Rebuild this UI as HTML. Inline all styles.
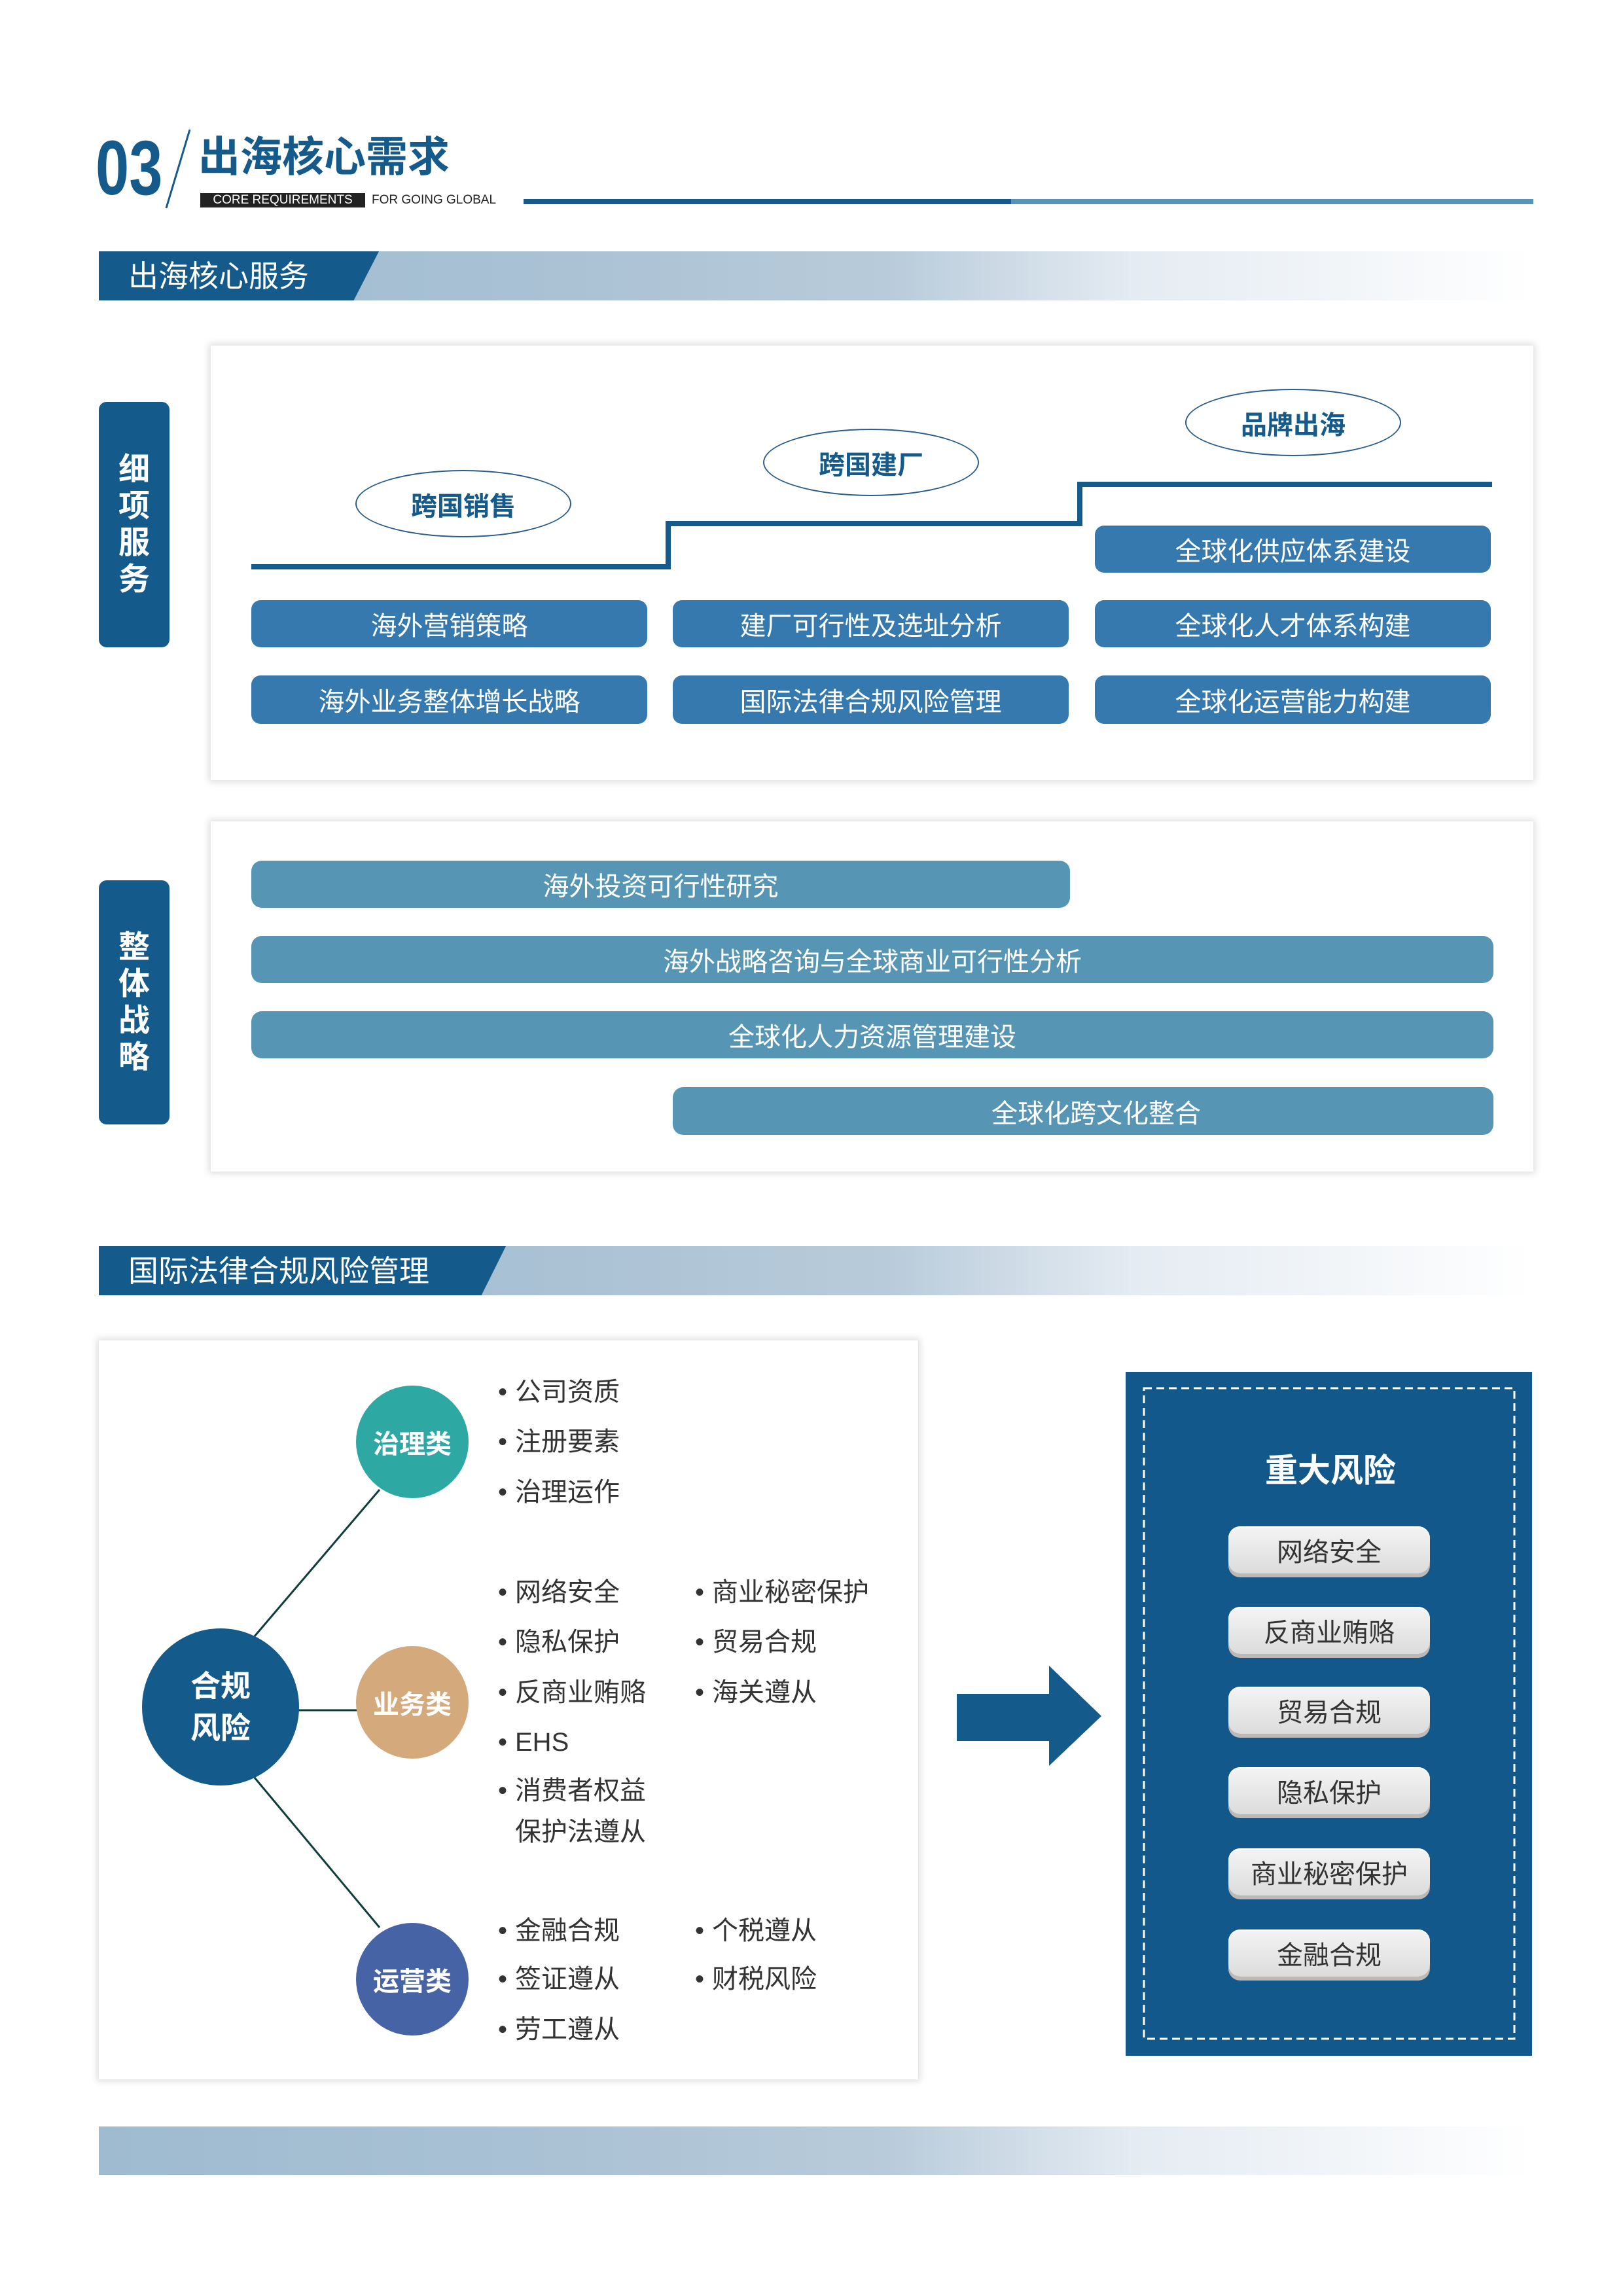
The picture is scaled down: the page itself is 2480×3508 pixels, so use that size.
<!DOCTYPE html>
<html><head><meta charset="utf-8"><style>
*{margin:0;padding:0;box-sizing:border-box}
body{width:2480px;height:3508px;position:relative;background:#fff;font-family:"Liberation Sans","Noto Sans CJK SC",sans-serif;overflow:hidden}
.a{position:absolute}
.c{display:flex;align-items:center;justify-content:center;text-align:center}
.bar{background:linear-gradient(90deg,#9fbbd0 0%,#a9c1d4 30%,#b8cbda 55%,#e4ebf2 72%,#f3f6f9 88%,#fff 100%)}
.box{background:#fff;box-shadow:0 0 10px 3px rgba(0,0,0,.13)}
.side{background:#145a8b;border-radius:12px;color:#fff;font-weight:bold;font-size:48px;line-height:56px;flex-direction:column}
.btn{background:#3579ae;border-radius:14px;color:#fff;font-size:40px}
.wb{background:#5696b4;border-radius:16px;color:#fff;font-size:40px}
.ell{border:2px solid #2a5d8c;border-radius:50%;color:#145a8b;font-weight:bold;font-size:40px;background:#fff}
.li{color:#333;font-size:40px;line-height:40px;white-space:nowrap}
.li:before{content:"•";position:absolute;left:-26px}
.pill{width:308px;height:72px;border-radius:18px;background:linear-gradient(180deg,#f4f4f4,#dcdcdc);box-shadow:0 6px 0 #bdb9b6, inset 0 2px 0 #fff;color:#333;font-size:40px}
.circ{border-radius:50%;color:#fff;font-weight:bold;font-size:40px}
</style></head><body>

<div class="a" style="left:146px;top:198px;font-size:118px;font-weight:bold;color:#145a8b;line-height:118px;transform:scaleX(.78);transform-origin:left;">03</div>
<svg class="a" style="left:0;top:0" width="2480" height="400"><line x1="290" y1="198" x2="254" y2="318" stroke="#145a8b" stroke-width="3"/></svg>
<div class="a" style="left:303px;top:204px;font-size:64px;font-weight:bold;color:#145a8b;line-height:72px;">出海核心需求</div>
<div class="a c" style="left:306px;top:295px;width:252px;height:22px;background:#222;color:#fff;font-size:19px;">CORE REQUIREMENTS</div>
<div class="a" style="left:568px;top:295px;font-size:19px;line-height:22px;color:#222;">FOR GOING GLOBAL</div>
<div class="a" style="left:800px;top:304px;width:745px;height:8px;background:#145a8b"></div>
<div class="a" style="left:1545px;top:304px;width:798px;height:8px;background:#5696b4"></div>

<div class="a bar" style="left:151px;top:384px;width:2190px;height:75px"></div>
<div class="a" style="left:151px;top:384px;width:428px;height:75px;background:#145a8b;clip-path:polygon(0 0,100% 0,91% 100%,0 100%)"></div>
<div class="a" style="left:196px;top:392px;font-size:46px;color:#fff;line-height:60px;">出海核心服务</div>

<div class="a box" style="left:322px;top:528px;width:2021px;height:664px"></div>
<div class="a side c" style="left:151px;top:614px;width:108px;height:375px">细<br>项<br>服<br>务</div>
<svg class="a" style="left:0;top:0" width="2480" height="1000">
<polyline points="384,866 1021,866 1021,800 1650,800 1650,740 2280,740" fill="none" stroke="#145a8b" stroke-width="8"/>
</svg>
<div class="a ell c" style="left:543px;top:718px;width:330px;height:103px">跨国销售</div>
<div class="a ell c" style="left:1166px;top:655px;width:330px;height:103px">跨国建厂</div>
<div class="a ell c" style="left:1811px;top:594px;width:330px;height:103px">品牌出海</div>
<div class="a btn c" style="left:1673px;top:803px;width:605px;height:72px">全球化供应体系建设</div>
<div class="a btn c" style="left:384px;top:917px;width:605px;height:72px">海外营销策略</div>
<div class="a btn c" style="left:1028px;top:917px;width:605px;height:72px">建厂可行性及选址分析</div>
<div class="a btn c" style="left:1673px;top:917px;width:605px;height:72px">全球化人才体系构建</div>
<div class="a btn c" style="left:384px;top:1032px;width:605px;height:74px">海外业务整体增长战略</div>
<div class="a btn c" style="left:1028px;top:1032px;width:605px;height:74px">国际法律合规风险管理</div>
<div class="a btn c" style="left:1673px;top:1032px;width:605px;height:74px">全球化运营能力构建</div>

<div class="a box" style="left:322px;top:1255px;width:2021px;height:535px"></div>
<div class="a side c" style="left:151px;top:1345px;width:108px;height:373px">整<br>体<br>战<br>略</div>
<div class="a wb c" style="left:384px;top:1315px;width:1251px;height:72px">海外投资可行性研究</div>
<div class="a wb c" style="left:384px;top:1430px;width:1898px;height:72px">海外战略咨询与全球商业可行性分析</div>
<div class="a wb c" style="left:384px;top:1545px;width:1898px;height:72px">全球化人力资源管理建设</div>
<div class="a wb c" style="left:1028px;top:1661px;width:1254px;height:73px;padding-left:40px">全球化跨文化整合</div>

<div class="a bar" style="left:151px;top:1904px;width:2190px;height:75px"></div>
<div class="a" style="left:151px;top:1904px;width:622px;height:75px;background:#145a8b;clip-path:polygon(0 0,100% 0,94% 100%,0 100%)"></div>
<div class="a" style="left:196px;top:1912px;font-size:46px;color:#fff;line-height:60px;">国际法律合规风险管理</div>

<div class="a box" style="left:151px;top:2048px;width:1252px;height:1129px"></div>
<svg class="a" style="left:0;top:0" width="1500" height="3200">
<g stroke="#0f3d3a" stroke-width="3">
<line x1="389" y1="2500" x2="580" y2="2276"/>
<line x1="440" y1="2613" x2="550" y2="2613"/>
<line x1="389" y1="2716" x2="580" y2="2945"/>
</g></svg>
<div class="a circ c" style="left:217px;top:2488px;width:240px;height:240px;background:#145a8b;font-size:46px;line-height:64px">合规<br>风险</div>
<div class="a circ c" style="left:544px;top:2117px;width:172px;height:172px;background:#2ea8a3">治理类</div>
<div class="a circ c" style="left:544px;top:2515px;width:172px;height:172px;background:#d4a97b">业务类</div>
<div class="a circ c" style="left:544px;top:2938px;width:172px;height:172px;background:#4663a5">运营类</div>

<div class="a li" style="left:787px;top:2107px">公司资质</div>
<div class="a li" style="left:787px;top:2183px">注册要素</div>
<div class="a li" style="left:787px;top:2260px">治理运作</div>
<div class="a li" style="left:787px;top:2413px">网络安全</div>
<div class="a li" style="left:787px;top:2489px">隐私保护</div>
<div class="a li" style="left:787px;top:2566px">反商业贿赂</div>
<div class="a li" style="left:787px;top:2642px">EHS</div>
<div class="a li" style="left:787px;top:2716px">消费者权益</div>
<div class="a" style="left:787px;top:2779px;color:#333;font-size:40px;line-height:40px">保护法遵从</div>
<div class="a li" style="left:1088px;top:2413px">商业秘密保护</div>
<div class="a li" style="left:1088px;top:2489px">贸易合规</div>
<div class="a li" style="left:1088px;top:2566px">海关遵从</div>
<div class="a li" style="left:787px;top:2930px">金融合规</div>
<div class="a li" style="left:787px;top:3004px">签证遵从</div>
<div class="a li" style="left:787px;top:3081px">劳工遵从</div>
<div class="a li" style="left:1088px;top:2930px">个税遵从</div>
<div class="a li" style="left:1088px;top:3004px">财税风险</div>

<svg class="a" style="left:0;top:0" width="1720" height="3200">
<polygon points="1462,2588 1603,2588 1603,2545 1683,2622 1603,2698 1603,2660 1462,2660" fill="#145a8b"/>
</svg>

<div class="a" style="left:1720px;top:2096px;width:621px;height:1045px;background:#13588a"></div>
<svg class="a" style="left:1720px;top:2096px" width="621" height="1045">
<rect x="28" y="25" width="566" height="994" fill="none" stroke="#fff" stroke-width="3" stroke-dasharray="12 7"/>
</svg>
<div class="a c" style="left:1720px;top:2210px;width:626px;height:66px;color:#fff;font-weight:bold;font-size:50px">重大风险</div>
<div class="a pill c" style="left:1877px;top:2332px">网络安全</div>
<div class="a pill c" style="left:1877px;top:2455px">反商业贿赂</div>
<div class="a pill c" style="left:1877px;top:2577px">贸易合规</div>
<div class="a pill c" style="left:1877px;top:2700px">隐私保护</div>
<div class="a pill c" style="left:1877px;top:2824px">商业秘密保护</div>
<div class="a pill c" style="left:1877px;top:2948px">金融合规</div>

<div class="a bar" style="left:151px;top:3249px;width:2190px;height:74px"></div>
</body></html>
